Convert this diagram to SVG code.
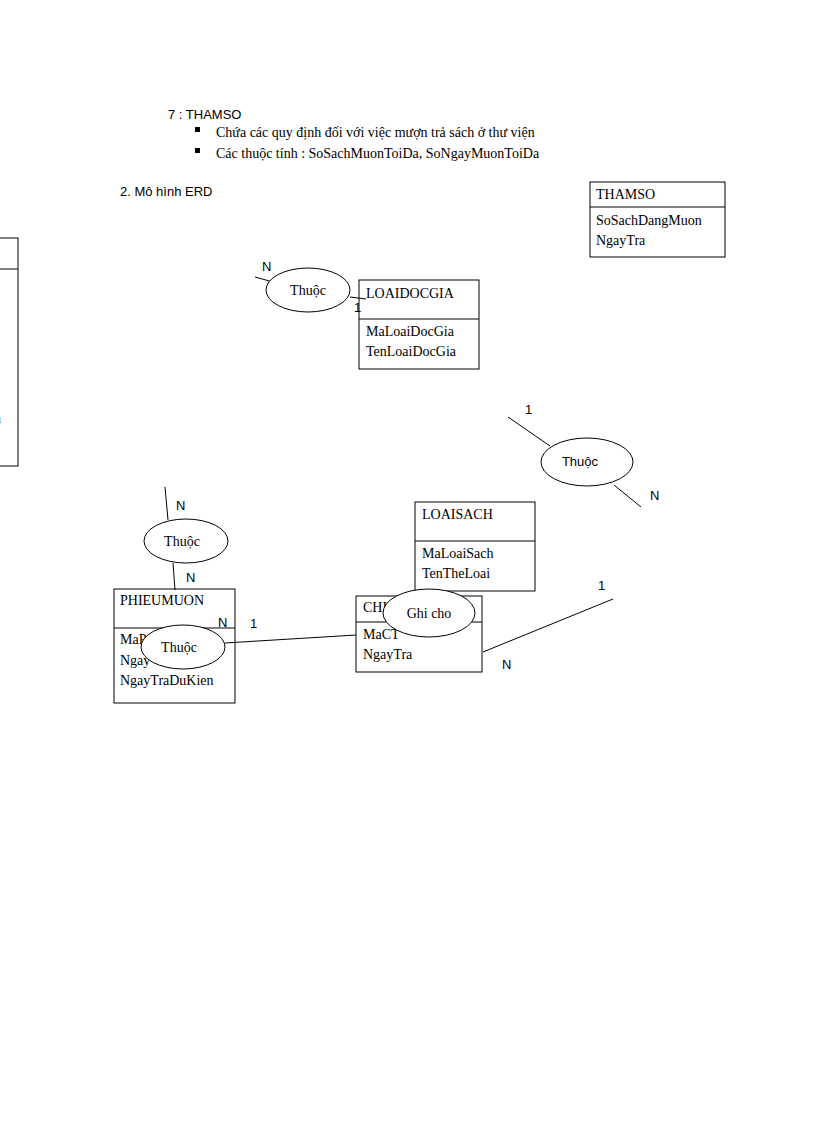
<svg xmlns="http://www.w3.org/2000/svg" width="816" height="1123" viewBox="0 0 816 1123">
<style>
text{font-family:"Liberation Serif",serif;font-size:14px;fill:#000}
.b{fill:#fff;stroke:#000;stroke-width:1}
.l{stroke:#000;stroke-width:1;fill:none}
.s{font-family:"Liberation Sans",sans-serif;font-size:13px}
</style>
<rect width="816" height="1123" fill="#fff"/>
<text x="168" y="119" class="s">7 : THAMSO</text>
<rect x="195" y="127" width="5" height="5"/>
<rect x="195" y="148" width="5" height="5"/>
<text x="216" y="137">Chứa các quy định đối với việc mượn trả sách ở thư viện</text>
<text x="216" y="158">Các thuộc tính  : SoSachMuonToiDa,  SoNgayMuonToiDa</text>
<text x="120" y="196" class="s">2. Mô hình  ERD</text>
<g id="left-box"><rect class="b" x="-10" y="238" width="28" height="228"/><line class="l" x1="-10" y1="269" x2="18" y2="269"/><text x="-6" y="423">n</text></g>
<g id="thamso"><rect class="b" x="590" y="182" width="135" height="75"/><line class="l" x1="590" y1="207" x2="725" y2="207"/><text x="596" y="199">THAMSO</text><text x="596" y="225">SoSachDangMuon</text><text x="596" y="245">NgayTra</text></g>
<g id="loaidocgia"><rect class="b" x="359" y="280" width="120" height="89"/><line class="l" x1="359" y1="319" x2="479" y2="319"/><text x="366" y="298">LOAIDOCGIA</text><text x="366" y="336">MaLoaiDocGia</text><text x="366" y="356">TenLoaiDocGia</text></g>
<g id="loaisach"><rect class="b" x="415" y="502" width="120" height="89"/><line class="l" x1="415" y1="541" x2="535" y2="541"/><text x="422" y="519">LOAISACH</text><text x="422" y="558">MaLoaiSach</text><text x="422" y="578">TenTheLoai</text></g>
<g id="phieumuon"><rect class="b" x="114" y="589" width="121" height="114"/><line class="l" x1="114" y1="628" x2="235" y2="628"/><text x="120" y="605">PHIEUMUON</text><text x="120" y="644">MaP</text><text x="120" y="665">Ngay</text><text x="120" y="685">NgayTraDuKien</text></g>
<g id="ctpm"><rect class="b" x="356" y="596" width="126" height="76"/><line class="l" x1="356" y1="622" x2="482" y2="622"/><text x="363" y="612">CHI</text><text x="363" y="639">MaCT</text><text x="363" y="659">NgayTra</text></g>
<g id="connectors">
<line class="l" x1="255" y1="277" x2="273" y2="282"/>
<line class="l" x1="350" y1="297" x2="366" y2="299"/>
<line class="l" x1="508" y1="417" x2="550" y2="446"/>
<line class="l" x1="614" y1="485" x2="641" y2="507"/>
<line class="l" x1="165" y1="487" x2="168" y2="520"/>
<line class="l" x1="173" y1="563" x2="175" y2="590"/>
<line class="l" x1="225" y1="643" x2="356" y2="635"/>
<line class="l" x1="483" y1="652" x2="613" y2="599"/>
</g>
<g id="thuoc1"><ellipse class="b" cx="308" cy="290" rx="42" ry="22"/><text x="308" y="295" text-anchor="middle">Thuộc</text></g>
<g id="thuoc2"><ellipse class="b" cx="587" cy="462" rx="46" ry="24"/><text x="580" y="466" text-anchor="middle" class="s">Thuộc</text></g>
<g id="thuoc3"><ellipse class="b" cx="186" cy="541" rx="42" ry="22"/><text x="182" y="546" text-anchor="middle">Thuộc</text></g>
<g id="thuoc4"><ellipse class="b" cx="183" cy="647" rx="42" ry="22"/><text x="179" y="652" text-anchor="middle">Thuộc</text></g>
<g id="ghicho"><ellipse class="b" cx="429" cy="613" rx="46" ry="24"/><text x="429" y="618" text-anchor="middle">Ghi  cho</text></g>
<g id="labels" class="s">
<text x="262" y="271" class="s">N</text><text x="354" y="312" class="s">1</text>
<text x="525" y="414" class="s">1</text><text x="650" y="500" class="s">N</text>
<text x="176" y="510" class="s">N</text><text x="186" y="582" class="s">N</text>
<text x="218" y="627" class="s">N</text><text x="250" y="628" class="s">1</text>
<text x="598" y="590" class="s">1</text><text x="502" y="669" class="s">N</text>
</g>
</svg>
